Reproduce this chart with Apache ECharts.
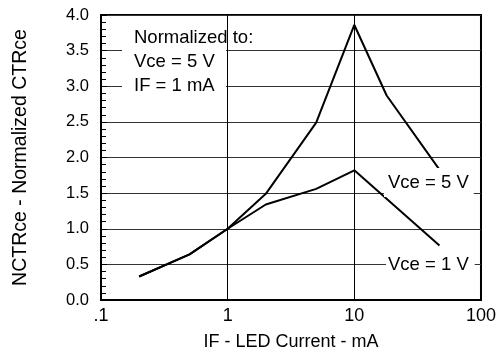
<!DOCTYPE html>
<html>
<head>
<meta charset="utf-8">
<script src="https://cdn.jsdelivr.net/npm/echarts@6/dist/echarts.min.js"></script>
<style>
    html, body { margin: 0; padding: 0; background: #fff; }
    #chart { width: 499px; height: 358px; }
</style>
</head>
<body>
<div id="chart"></div>
<script>
// IF - LED current (mA)
const ifCurrent = [0.2, 0.5, 1, 2, 5, 10, 18, 47];
// NCTRce at Vce = 5 V
const vce5 = [0.33, 0.64, 1.0, 1.49, 2.49, 3.86, 2.87, 1.83];
// NCTRce at Vce = 1 V (same x points, last leg goes straight 10 -> 47)
const ifCurrent1 = [0.2, 0.5, 1, 2, 5, 10, 47];
const vce1 = [0.33, 0.64, 1.0, 1.34, 1.56, 1.82, 0.765];

const xTicks = { 0.1: '.1', 1: '1', 10: '10', 100: '100' };
const noteLines = ['Normalized to:', 'Vce = 5 V', 'IF = 1 mA'];

const FONT = '"Liberation Sans", Arial, Helvetica, sans-serif';

const chart = echarts.init(document.getElementById('chart'), null, { renderer: 'canvas' });

const option = {
    animation: false,
    backgroundColor: '#fff',
    grid: {
        left: 101, right: 15, top: 15, bottom: 58,
        show: true,
        borderColor: '#000',
        borderWidth: 2
    },
    xAxis: {
        type: 'log',
        logBase: 10,
        min: 0.1,
        max: 100,
        name: 'IF - LED Current - mA',
        nameLocation: 'middle',
        nameGap: 33,
        nameTextStyle: { fontFamily: FONT, fontSize: 18, color: '#000' },
        axisLine: { show: true, lineStyle: { color: '#000', width: 2 } },
        axisTick: { show: false },
        minorTick: { show: false },
        axisLabel: {
            fontFamily: FONT, fontSize: 18, color: '#000', margin: 7,
            formatter: v => xTicks[Math.round(v * 10) / 10] || ''
        },
        splitLine: { show: true, lineStyle: { color: '#000', width: 1 } }
    },
    yAxis: {
        type: 'value',
        min: 0,
        max: 4,
        interval: 0.5,
        name: 'NCTRce - Normalized CTRce',
        nameLocation: 'middle',
        nameGap: 70,
        nameTextStyle: { fontFamily: FONT, fontSize: 19.5, color: '#000' },
        axisLine: { show: true, lineStyle: { color: '#000', width: 2 } },
        axisTick: { show: true, inside: true, length: 6, lineStyle: { color: '#000' } },
        minorTick: { show: true, splitNumber: 5, length: 5, lineStyle: { color: '#000' } },
        axisLabel: {
            fontFamily: FONT, fontSize: 16.5, color: '#000', margin: 12,
            formatter: v => v.toFixed(1)
        },
        splitLine: { show: true, lineStyle: { color: '#333', width: 1 } }
    },
    series: [
        {
            name: 'Vce = 5 V',
            type: 'line',
            data: ifCurrent.map((x, i) => [x, vce5[i]]),
            showSymbol: false,
            lineStyle: { color: '#000', width: 2 },
            z: 3
        },
        {
            name: 'Vce = 1 V',
            type: 'line',
            data: ifCurrent1.map((x, i) => [x, vce1[i]]),
            showSymbol: false,
            lineStyle: { color: '#000', width: 2 },
            z: 3
        }
    ],
    graphic: [
        // white patch behind the normalization note
        { type: 'rect', left: 122, top: 20, shape: { width: 104, height: 76 }, style: { fill: '#fff' }, z: 10 },
        {
            type: 'text', left: 134, top: 26, z: 11,
            style: {
                text: noteLines.join('\n'),
                font: '18.5px ' + FONT,
                fill: '#000',
                lineHeight: 24
            }
        },
        {
            type: 'text', left: 384, top: 168, z: 11,
            style: {
                text: 'Vce = 5 V', font: '18.5px ' + FONT, fill: '#000',
                backgroundColor: '#fff', padding: [5, 5, 5, 4]
            }
        },
        {
            type: 'text', left: 386, top: 252, z: 11,
            style: {
                text: 'Vce = 1 V', font: '18.5px ' + FONT, fill: '#000',
                backgroundColor: '#fff', padding: [3, 6, 3, 2]
            }
        }
    ]
};

chart.setOption(option);
</script>
</body>
</html>
